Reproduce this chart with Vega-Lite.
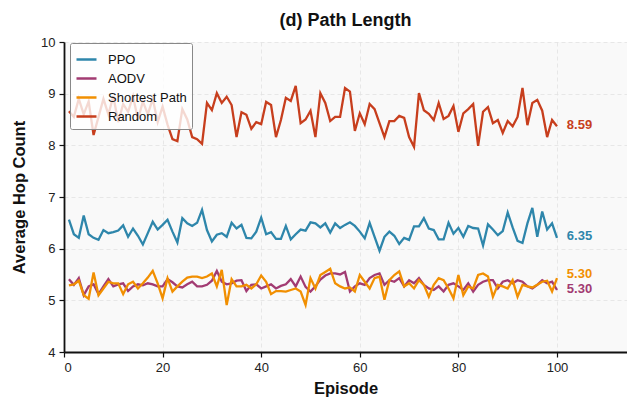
{
  "$schema": "https://vega.github.io/schema/vega-lite/v6.json",
  "width": 563,
  "height": 310,
  "autosize": {"type": "none"},
  "padding": {"left": 64, "top": 42, "right": 0, "bottom": 48},
  "background": "white",
  "title": {"text": "(d) Path Length", "fontSize": 18, "fontWeight": "bold", "font": "Liberation Sans", "color": "#111", "offset": 6, "anchor": "middle"},
  "config": {
    "view": {"fill": "#f9f9f9", "stroke": null},
    "font": "Liberation Sans",
    "axis": {
      "domainColor": "#111", "domainWidth": 1.8, "tickColor": "#111", "tickSize": 5, "tickWidth": 1.2,
      "labelFontSize": 13, "labelColor": "#222", "labelFont": "Liberation Sans",
      "titleFontSize": 16.5, "titleFontWeight": "bold", "titleColor": "#111", "titleFont": "Liberation Sans",
      "gridColor": "#e2e2e2", "gridDash": [4, 3], "gridWidth": 0.8
    }
  },
  "data": {
    "values": [
      {"ep":1,"PPO":6.56,"AODV":5.41,"SP":5.29,"Random":8.66},
      {"ep":2,"PPO":6.28,"AODV":5.30,"SP":5.31,"Random":8.55},
      {"ep":3,"PPO":6.21,"AODV":5.43,"SP":5.38,"Random":8.9},
      {"ep":4,"PPO":6.64,"AODV":5.10,"SP":5.10,"Random":8.6},
      {"ep":5,"PPO":6.28,"AODV":5.27,"SP":5.03,"Random":8.85},
      {"ep":6,"PPO":6.21,"AODV":5.31,"SP":5.54,"Random":8.2},
      {"ep":7,"PPO":6.17,"AODV":5.12,"SP":5.10,"Random":8.55},
      {"ep":8,"PPO":6.36,"AODV":5.27,"SP":5.23,"Random":8.9},
      {"ep":9,"PPO":6.30,"AODV":5.41,"SP":5.36,"Random":8.6},
      {"ep":10,"PPO":6.32,"AODV":5.27,"SP":5.33,"Random":8.95},
      {"ep":11,"PPO":6.35,"AODV":5.31,"SP":5.33,"Random":8.45},
      {"ep":12,"PPO":6.45,"AODV":5.33,"SP":5.12,"Random":8.8},
      {"ep":13,"PPO":6.23,"AODV":5.18,"SP":5.31,"Random":8.65},
      {"ep":14,"PPO":6.39,"AODV":5.27,"SP":5.36,"Random":8.95},
      {"ep":15,"PPO":6.25,"AODV":5.31,"SP":5.23,"Random":8.5},
      {"ep":16,"PPO":6.08,"AODV":5.29,"SP":5.33,"Random":8.85},
      {"ep":17,"PPO":6.30,"AODV":5.33,"SP":5.44,"Random":8.6},
      {"ep":18,"PPO":6.52,"AODV":5.31,"SP":5.57,"Random":8.9},
      {"ep":19,"PPO":6.37,"AODV":5.27,"SP":5.33,"Random":8.45},
      {"ep":20,"PPO":6.46,"AODV":5.27,"SP":5.04,"Random":8.75},
      {"ep":21,"PPO":6.56,"AODV":5.41,"SP":5.43,"Random":8.4},
      {"ep":22,"PPO":6.33,"AODV":5.35,"SP":5.17,"Random":8.12},
      {"ep":23,"PPO":6.12,"AODV":5.27,"SP":5.27,"Random":8.08},
      {"ep":24,"PPO":6.59,"AODV":5.25,"SP":5.36,"Random":8.7},
      {"ep":25,"PPO":6.49,"AODV":5.31,"SP":5.44,"Random":8.5},
      {"ep":26,"PPO":6.44,"AODV":5.36,"SP":5.46,"Random":8.16},
      {"ep":27,"PPO":6.50,"AODV":5.27,"SP":5.46,"Random":8.12},
      {"ep":28,"PPO":6.75,"AODV":5.27,"SP":5.43,"Random":8.03},
      {"ep":29,"PPO":6.36,"AODV":5.30,"SP":5.46,"Random":8.82},
      {"ep":30,"PPO":6.14,"AODV":5.38,"SP":5.52,"Random":8.68},
      {"ep":31,"PPO":6.27,"AODV":5.57,"SP":5.27,"Random":9.01},
      {"ep":32,"PPO":6.30,"AODV":5.36,"SP":5.59,"Random":8.82},
      {"ep":33,"PPO":6.23,"AODV":5.31,"SP":4.91,"Random":8.94},
      {"ep":34,"PPO":6.50,"AODV":5.33,"SP":5.41,"Random":8.78},
      {"ep":35,"PPO":6.39,"AODV":5.38,"SP":5.27,"Random":8.16},
      {"ep":36,"PPO":6.46,"AODV":5.39,"SP":5.27,"Random":8.64},
      {"ep":37,"PPO":6.21,"AODV":5.18,"SP":5.30,"Random":8.59},
      {"ep":38,"PPO":6.20,"AODV":5.30,"SP":5.23,"Random":8.32},
      {"ep":39,"PPO":6.33,"AODV":5.31,"SP":5.31,"Random":8.45},
      {"ep":40,"PPO":6.60,"AODV":5.23,"SP":5.48,"Random":8.41},
      {"ep":41,"PPO":6.28,"AODV":5.27,"SP":5.36,"Random":8.84},
      {"ep":42,"PPO":6.32,"AODV":5.31,"SP":5.12,"Random":8.78},
      {"ep":43,"PPO":6.19,"AODV":5.23,"SP":5.18,"Random":8.16},
      {"ep":44,"PPO":6.19,"AODV":5.28,"SP":5.18,"Random":8.49},
      {"ep":45,"PPO":6.44,"AODV":5.31,"SP":5.17,"Random":8.92},
      {"ep":46,"PPO":6.18,"AODV":5.41,"SP":5.20,"Random":8.86},
      {"ep":47,"PPO":6.28,"AODV":5.27,"SP":5.23,"Random":9.15},
      {"ep":48,"PPO":6.37,"AODV":5.46,"SP":5.17,"Random":8.43},
      {"ep":49,"PPO":6.35,"AODV":5.26,"SP":4.91,"Random":8.5},
      {"ep":50,"PPO":6.51,"AODV":5.17,"SP":5.43,"Random":8.67},
      {"ep":51,"PPO":6.49,"AODV":5.27,"SP":5.23,"Random":8.16},
      {"ep":52,"PPO":6.41,"AODV":5.40,"SP":5.49,"Random":9.01},
      {"ep":53,"PPO":6.49,"AODV":5.48,"SP":5.55,"Random":8.82},
      {"ep":54,"PPO":6.31,"AODV":5.52,"SP":5.61,"Random":8.47},
      {"ep":55,"PPO":6.49,"AODV":5.52,"SP":5.33,"Random":8.55},
      {"ep":56,"PPO":6.40,"AODV":5.50,"SP":5.27,"Random":8.55},
      {"ep":57,"PPO":6.46,"AODV":5.55,"SP":5.23,"Random":9.11},
      {"ep":58,"PPO":6.51,"AODV":5.17,"SP":5.25,"Random":9.04},
      {"ep":59,"PPO":6.44,"AODV":5.27,"SP":5.17,"Random":8.28},
      {"ep":60,"PPO":6.33,"AODV":5.33,"SP":5.49,"Random":8.62},
      {"ep":61,"PPO":6.20,"AODV":5.30,"SP":5.36,"Random":8.41},
      {"ep":62,"PPO":6.50,"AODV":5.43,"SP":5.23,"Random":8.8},
      {"ep":63,"PPO":6.23,"AODV":5.49,"SP":5.43,"Random":8.7},
      {"ep":64,"PPO":5.96,"AODV":5.52,"SP":5.46,"Random":8.43},
      {"ep":65,"PPO":6.23,"AODV":5.30,"SP":5.01,"Random":8.16},
      {"ep":66,"PPO":6.33,"AODV":5.39,"SP":5.39,"Random":8.47},
      {"ep":67,"PPO":6.25,"AODV":5.36,"SP":5.49,"Random":8.47},
      {"ep":68,"PPO":6.09,"AODV":5.43,"SP":5.56,"Random":8.57},
      {"ep":69,"PPO":6.21,"AODV":5.27,"SP":5.27,"Random":8.53},
      {"ep":70,"PPO":6.17,"AODV":5.39,"SP":5.33,"Random":8.16},
      {"ep":71,"PPO":6.43,"AODV":5.33,"SP":5.23,"Random":7.97},
      {"ep":72,"PPO":6.43,"AODV":5.43,"SP":5.39,"Random":9.01},
      {"ep":73,"PPO":6.59,"AODV":5.30,"SP":5.30,"Random":8.68},
      {"ep":74,"PPO":6.39,"AODV":5.23,"SP":5.07,"Random":8.61},
      {"ep":75,"PPO":6.36,"AODV":5.20,"SP":5.30,"Random":8.49},
      {"ep":76,"PPO":6.18,"AODV":5.27,"SP":5.43,"Random":8.82},
      {"ep":77,"PPO":6.18,"AODV":5.17,"SP":5.39,"Random":8.51},
      {"ep":78,"PPO":6.50,"AODV":5.30,"SP":5.23,"Random":8.57},
      {"ep":79,"PPO":6.29,"AODV":5.33,"SP":5.04,"Random":8.76},
      {"ep":80,"PPO":6.40,"AODV":5.27,"SP":5.49,"Random":8.26},
      {"ep":81,"PPO":6.23,"AODV":5.20,"SP":5.10,"Random":8.62},
      {"ep":82,"PPO":6.44,"AODV":5.33,"SP":5.27,"Random":8.7},
      {"ep":83,"PPO":6.40,"AODV":5.17,"SP":5.23,"Random":8.8},
      {"ep":84,"PPO":6.39,"AODV":5.30,"SP":5.49,"Random":7.99},
      {"ep":85,"PPO":6.06,"AODV":5.36,"SP":5.52,"Random":8.65},
      {"ep":86,"PPO":6.47,"AODV":5.39,"SP":5.46,"Random":8.74},
      {"ep":87,"PPO":6.37,"AODV":5.39,"SP":5.07,"Random":8.43},
      {"ep":88,"PPO":6.26,"AODV":5.23,"SP":5.30,"Random":8.49},
      {"ep":89,"PPO":6.34,"AODV":5.36,"SP":5.27,"Random":8.24},
      {"ep":90,"PPO":6.70,"AODV":5.39,"SP":5.23,"Random":8.47},
      {"ep":91,"PPO":6.41,"AODV":5.33,"SP":5.39,"Random":8.37},
      {"ep":92,"PPO":6.15,"AODV":5.39,"SP":5.07,"Random":8.55},
      {"ep":93,"PPO":6.11,"AODV":5.36,"SP":5.30,"Random":9.11},
      {"ep":94,"PPO":6.49,"AODV":5.27,"SP":5.27,"Random":8.39},
      {"ep":95,"PPO":6.79,"AODV":5.23,"SP":5.25,"Random":8.82},
      {"ep":96,"PPO":6.23,"AODV":5.30,"SP":5.30,"Random":8.88},
      {"ep":97,"PPO":6.72,"AODV":5.39,"SP":5.36,"Random":8.67},
      {"ep":98,"PPO":6.37,"AODV":5.33,"SP":5.38,"Random":8.16},
      {"ep":99,"PPO":6.49,"AODV":5.36,"SP":5.17,"Random":8.49},
      {"ep":100,"PPO":6.21,"AODV":5.20,"SP":5.43,"Random":8.37}
    ]
  },
  "layer": [
    {
      "transform": [
        {"fold": ["PPO", "AODV", "SP", "Random"], "as": ["key", "value"]},
        {"lookup": "key", "from": {"data": {"values": [
          {"key": "PPO", "series": "PPO"},
          {"key": "AODV", "series": "AODV"},
          {"key": "SP", "series": "Shortest Path"},
          {"key": "Random", "series": "Random"}
        ]}, "key": "key", "fields": ["series"]}}
      ],
      "mark": {"type": "line", "strokeWidth": 2.3, "clip": true},
      "encoding": {
        "x": {"field": "ep", "type": "quantitative", "scale": {"domain": [0, 114.2], "nice": false},
              "axis": {"values": [0, 20, 40, 60, 80, 100], "title": "Episode", "grid": true, "labelPadding": 4, "titlePadding": 6}},
        "y": {"field": "value", "type": "quantitative", "scale": {"domain": [4, 10], "nice": false},
              "axis": {"values": [4, 5, 6, 7, 8, 9, 10], "title": "Average Hop Count", "grid": true, "labelPadding": 4, "titlePadding": 13}},
        "color": {"field": "series", "type": "nominal",
          "scale": {"domain": ["PPO", "AODV", "Shortest Path", "Random"], "range": ["#2E86AB", "#A23B72", "#F18F01", "#C73E1D"]},
          "legend": {"title": null, "orient": "none", "legendX": 6, "legendY": 1, "symbolType": "stroke", "symbolSize": 400, "symbolStrokeWidth": 2.5,
                     "labelFontSize": 13, "labelColor": "#111", "labelFont": "Liberation Sans", "fillColor": "rgba(255,255,255,0.8)", "strokeColor": "#888",
                     "padding": 5, "rowPadding": 0, "cornerRadius": 2, "labelOffset": 10}
        }
      }
    },
    {
      "data": {"values": [
        {"ep": 102, "value": 8.39, "label": "8.59", "series": "Random"},
        {"ep": 102, "value": 6.25, "label": "6.35", "series": "PPO"},
        {"ep": 102, "value": 5.51, "label": "5.30", "series": "Shortest Path"},
        {"ep": 102, "value": 5.22, "label": "5.30", "series": "AODV"}
      ]},
      "mark": {"type": "text", "align": "left", "baseline": "middle", "fontSize": 13, "fontWeight": "bold", "font": "Liberation Sans"},
      "encoding": {
        "x": {"field": "ep", "type": "quantitative"},
        "y": {"field": "value", "type": "quantitative"},
        "text": {"field": "label"},
        "color": {"field": "series", "type": "nominal",
          "scale": {"domain": ["PPO", "AODV", "Shortest Path", "Random"], "range": ["#2E86AB", "#A23B72", "#F18F01", "#C73E1D"]},
          "legend": null}
      }
    }
  ],
  "resolve": {"scale": {"color": "independent"}}
}
